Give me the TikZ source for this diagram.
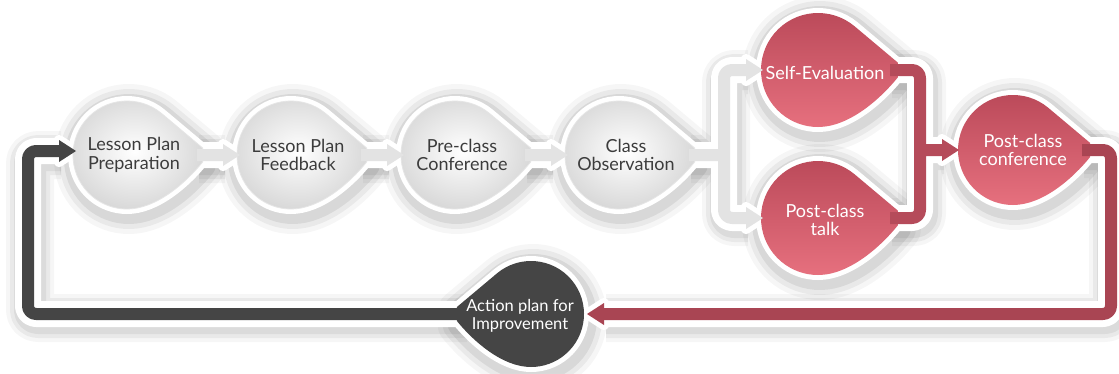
\documentclass[tikz,border=0pt]{standalone}
\usepackage{fontspec}
\setmainfont{Lato}
\definecolor{gfill}{HTML}{E3E3E3}
\definecolor{gtxt}{HTML}{3C3C3C}
\definecolor{rtop}{HTML}{B94858}
\definecolor{rbot}{HTML}{E6707E}
\definecolor{rline}{HTML}{B54B5A}
\definecolor{rdark}{HTML}{A94553}
\definecolor{dk}{HTML}{454545}
% teardrop pointing east: #1 options, #2 x, #3 y, #4 radius
\newcommand\tdrop[4]{\path[shift={(#2,#3)},scale=#4,yscale=-1,#1] (1.40,0.13) -- (50:1) arc[start angle=50,end angle=270,radius=1] .. controls (0.55,-1) and (1.1,-0.5) .. (1.40,-0.13) -- cycle;}
\newcommand\sdrop[4]{\foreach \w/\o in {42/0.035,32/0.05,22/0.07}{\tdrop{#1,draw=black,draw opacity=\o,line width=\w pt}{#2}{#3}{#4}}}
\newcommand\wdrop[4]{\tdrop{#1,draw=white,line width=10pt,line join=round}{#2}{#3}{#4}}
\tikzset{
  gshape/.style={shading=radial,inner color=white,outer color=black!15,draw=black!10,line width=.8pt},
  rshape/.style={top color=rtop,bottom color=rbot},
  gtext/.style={text=gtxt,align=center,font=\fontsize{18}{18.5}\selectfont},
  wtext/.style={text=white,align=center,font=\fontsize{18}{18.5}\selectfont},
}
\begin{document}
\begin{tikzpicture}[x=1pt,y=-1pt,line join=round]
\useasboundingbox (0,0) rectangle (1119,373);
\fill[white] (0,0) rectangle (1119,373);
% way points
\coordinate (s1) at (197,155); \coordinate (b1) at (223,155); \coordinate (h1) at (240,155);
\coordinate (s2) at (361,155); \coordinate (b2) at (387,155); \coordinate (h2) at (404,155);
\coordinate (s3) at (525,155); \coordinate (b3) at (551,155); \coordinate (h3) at (568,155);
\coordinate (s4) at (689,155); \coordinate (k4) at (724,155);
\coordinate (u4) at (724,70);  \coordinate (d4) at (724,218);
\coordinate (bu) at (746,70);  \coordinate (hu) at (763,70);
\coordinate (bd) at (746,218); \coordinate (hd) at (763,218);
\coordinate (s5) at (890,70);  \coordinate (s6) at (890,218);
\coordinate (r5) at (920,70);  \coordinate (r6) at (920,218); \coordinate (k5) at (920,150);
\coordinate (b5) at (942,150); \coordinate (h5) at (959,150);
\coordinate (s7) at (1082,150); \coordinate (r7) at (1111,150); \coordinate (r8) at (1111,314);
\coordinate (b7) at (604,314); \coordinate (h7) at (587,314);
\coordinate (s8) at (465,314); \coordinate (l8) at (28,314); \coordinate (l9) at (28,151);
\coordinate (b8) at (59,151); \coordinate (h8) at (76,151);
\def\cnA{(s1) -- (b1)}
\def\cnB{(s2) -- (b2)}
\def\cnC{(s3) -- (b3)}
\def\cnD{(s4) -- (k4) (bu) -- (u4) -- (d4) -- (bd)}
\def\cnE{(s5) -- (r5) -- (r6) -- (s6) (k5) -- (b5)}
\def\cnF{(s7) -- (r7) -- (r8) -- (b7)}
\def\cnG{(s8) -- (l8) -- (l9) -- (b8)}
% ---------- shadows
\foreach \w/\o in {48/0.035,40/0.05,32/0.06}{
  \draw[black,draw opacity=\o,line width=\w pt,rounded corners=8pt,transform canvas={xshift=2pt,yshift=-4pt}] \cnA \cnB \cnC \cnD \cnE \cnF \cnG;}
\sdrop{}{129}{159}{54}
\sdrop{}{293}{159}{54}
\sdrop{}{457}{159}{54}
\sdrop{}{621}{159}{54}
\sdrop{}{820}{74}{57}
\sdrop{}{820}{222}{57}
\sdrop{}{1015}{154}{55}
\sdrop{xscale=-1}{533}{318}{53}
% ---------- white outlines
\draw[white,line width=26pt,rounded corners=8pt] \cnA \cnB \cnC \cnD \cnE \cnF \cnG;
\foreach \h in {h1,h2,h3,hu,hd,h5,h8}
  \draw[white,line width=10pt] ([shift={(-17,-11)}]\h) -- (\h) -- ([shift={(-17,11)}]\h) -- cycle;
\draw[white,line width=10pt] ([shift={(17,-11)}]h7) -- (h7) -- ([shift={(17,11)}]h7) -- cycle;
\wdrop{}{127}{155}{54}
\wdrop{}{291}{155}{54}
\wdrop{}{455}{155}{54}
\wdrop{}{619}{155}{54}
\wdrop{}{818}{70}{57}
\wdrop{}{818}{218}{57}
\wdrop{}{1013}{150}{55}
\wdrop{xscale=-1}{531}{314}{53}
% ---------- shape fills
\tdrop{gshape}{127}{155}{54}
\tdrop{gshape}{291}{155}{54}
\tdrop{gshape}{455}{155}{54}
\tdrop{gshape}{619}{155}{54}
\tdrop{rshape}{818}{70}{57}
\tdrop{rshape}{818}{218}{57}
\tdrop{rshape}{1013}{150}{55}
\tdrop{xscale=-1,fill=dk}{531}{314}{53}
% ---------- connector fills
\draw[gfill,line width=12pt,rounded corners=8pt] \cnA \cnB \cnC \cnD;
\draw[rline,line width=12pt,rounded corners=8pt] \cnE;
\draw[rdark,line width=12pt,rounded corners=8pt] \cnF;
\draw[dk,line width=12pt,rounded corners=8pt] \cnG;
\foreach \h in {h1,h2,h3,hu,hd}
  \fill[gfill] ([shift={(-17,-11)}]\h) -- (\h) -- ([shift={(-17,11)}]\h) -- cycle;
\fill[rline] ([shift={(-17,-11)}]h5) -- (h5) -- ([shift={(-17,11)}]h5) -- cycle;
\fill[dk] ([shift={(-17,-11)}]h8) -- (h8) -- ([shift={(-17,11)}]h8) -- cycle;
\fill[rdark] ([shift={(17,-11)}]h7) -- (h7) -- ([shift={(17,11)}]h7) -- cycle;
% ---------- texts
\node[gtext] (prep) at (134,155) {Lesson Plan\\Preparation};
\node[gtext] (feed) at (298,155) {Lesson Plan\\Feedback};
\node[gtext] (pre) at (462,155) {Pre-class\\Conference};
\node[gtext] (obs) at (626,155) {Class\\Observation};
\node[wtext] (self) at (825,73) {Self-Evaluation};
\node[wtext] (talk) at (825,220) {Post-class\\talk};
\node[wtext] (conf) at (1023,150) {Post-class\\conference};
\node[text=white,align=center,font=\fontsize{16.5}{18}\selectfont] (act) at (520,316) {Action plan for\\Improvement};
\end{tikzpicture}
\end{document}
